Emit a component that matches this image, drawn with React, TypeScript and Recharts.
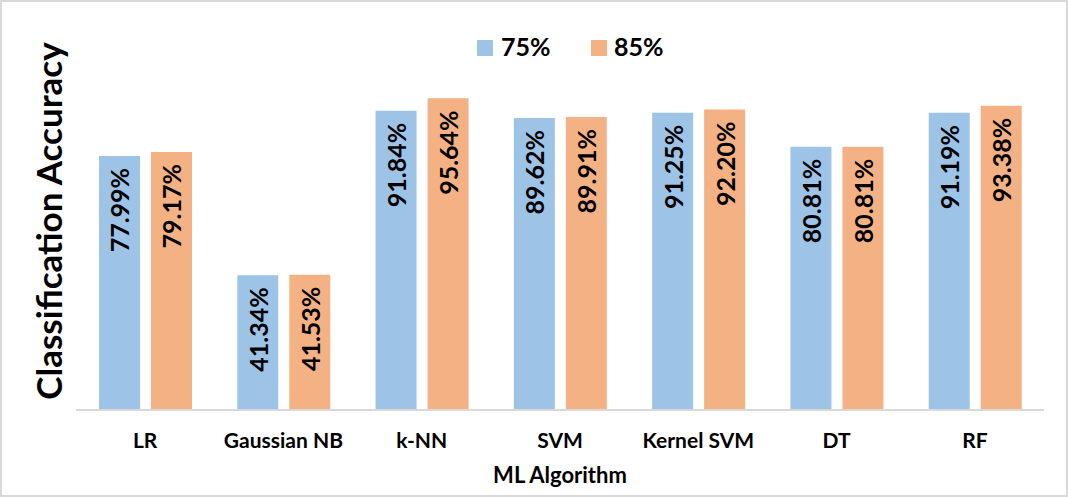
import { BarChart, Bar, XAxis, YAxis, Legend, LabelList, Label } from "recharts";

const categories = ["LR", "Gaussian NB", "k-NN", "SVM", "Kernel SVM", "DT", "RF"];
const acc75 = [77.99, 41.34, 91.84, 89.62, 91.25, 80.81, 91.19];
const acc85 = [79.17, 41.53, 95.64, 89.91, 92.2, 80.81, 93.38];
const seriesNames = ["75%", "85%"];

const BLUE = "#9DC3E6";
const ORANGE = "#F4B183";
const FONT = "Lato, 'Noto Sans', sans-serif";

const data = categories.map((name, i) => ({
  name,
  s75: acc75[i],
  s85: acc85[i],
}));

function ValueLabel(props: any) {
  const { x, y, width, value } = props;
  const cx = Number(x) + Number(width) / 2;
  const top = Number(y) + 12;
  return (
    <text
      x={cx}
      y={top}
      transform={`rotate(-90 ${cx} ${top})`}
      textAnchor="end"
      dominantBaseline="central"
      fontFamily={FONT}
      fontWeight={700}
      fontSize={25}
      fill="#000"
    >
      {Number(value).toFixed(2) + "%"}
    </text>
  );
}

function CategoryTick(props: any) {
  const { x, y, payload } = props;
  return (
    <text
      x={x}
      y={Number(y) + 38}
      textAnchor="middle"
      fontFamily={FONT}
      fontWeight={700}
      fontSize={21}
      fill="#000"
    >
      {payload.value}
    </text>
  );
}

function TopLegend() {
  return (
    <svg width={1068} height={50}>
      <rect x={477} y={20} width={16} height={16} fill={BLUE} />
      <text x={501} y={36} fontFamily={FONT} fontWeight={700} fontSize={25} fill="#000">
        {seriesNames[0]}
      </text>
      <rect x={591} y={20} width={16} height={16} fill={ORANGE} />
      <text x={614} y={36} fontFamily={FONT} fontWeight={700} fontSize={25} fill="#000">
        {seriesNames[1]}
      </text>
    </svg>
  );
}

export default function App() {
  return (
    <div style={{ position: "absolute", left: 0, top: 0, width: 1068, height: 497, background: "#fff" }}>
      <BarChart
        width={1068}
        height={497}
        data={data}
        margin={{ top: 19, right: 24, bottom: 0, left: 0 }}
        barSize={41}
        barGap={11}
      >
        <YAxis
          domain={[0, 120]}
          width={76}
          axisLine={false}
          tickLine={false}
          tick={false}
        >
          <Label
            content={() => (
              <text
                x={62}
                y={221}
                transform="rotate(-90 62 221)"
                textAnchor="middle"
                fontFamily={FONT}
                fontWeight={700}
                fontSize={35}
                fill="#000"
              >
                Classification Accuracy
              </text>
            )}
          />
        </YAxis>
        <XAxis
          dataKey="name"
          height={87}
          axisLine={{ stroke: "#d9d9d9", strokeWidth: 2 }}
          tickLine={false}
          tickSize={0}
          tickMargin={0}
          interval={0}
          tick={<CategoryTick />}
        >
          <Label
            content={(p: any) => {
              const vb = p.viewBox || {};
              return (
                <text
                  x={Number(vb.x) + Number(vb.width) / 2}
                  y={Number(vb.y) + 73}
                  textAnchor="middle"
                  fontFamily={FONT}
                  fontWeight={700}
                  fontSize={22}
                  fill="#000"
                >
                  ML Algorithm
                </text>
              );
            }}
          />
        </XAxis>
        <Legend
          layout="horizontal"
          verticalAlign="middle"
          align="center"
          content={() => <TopLegend />}
          wrapperStyle={{ top: 20, left: 0, width: 1068, height: 50 }}
        />
        <Bar dataKey="s75" name={seriesNames[0]} fill={BLUE} isAnimationActive={false}>
          <LabelList dataKey="s75" content={<ValueLabel />} />
        </Bar>
        <Bar dataKey="s85" name={seriesNames[1]} fill={ORANGE} isAnimationActive={false}>
          <LabelList dataKey="s85" content={<ValueLabel />} />
        </Bar>
      </BarChart>
      <div
        style={{
          position: "absolute",
          left: 0,
          top: 0,
          width: 1068,
          height: 497,
          boxSizing: "border-box",
          border: "2px solid #d9d9d9",
          pointerEvents: "none",
        }}
      />
    </div>
  );
}
